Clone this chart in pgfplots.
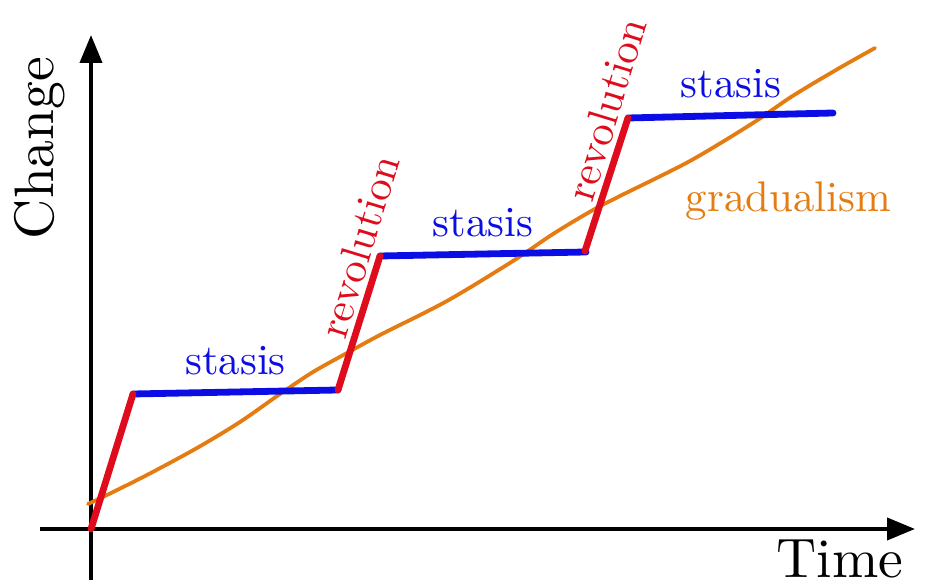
\documentclass[border=0pt]{standalone}
\usepackage{pgfplots}
\pgfplotsset{compat=1.18}
\usetikzlibrary{arrows.meta}
\definecolor{myred}{RGB}{222,12,28}
\definecolor{myblue}{RGB}{12,12,228}
\definecolor{myorange}{RGB}{228,124,18}
\newcommand{\sm}[1]{\scalebox{2.15}{#1}}
\newcommand{\bg}[1]{\scalebox{2.79}{#1}}
\begin{document}
\begin{tikzpicture}
\begin{axis}[x=0.5bp, y=0.5bp, xmin=-91, xmax=845, ymin=-59, ymax=529,
  hide axis, scale only axis, clip=false]
\path (axis cs:-91,-59) rectangle (axis cs:845,529);
% axes
\draw[line width=2bp, -{Triangle[length=14bp,width=11bp]}] (axis cs:-51,0) -- (axis cs:824,0);
\draw[line width=2bp, -{Triangle[length=14bp,width=11bp]}] (axis cs:0,-51) -- (axis cs:0,494);
% gradualism
\addplot[myorange, line width=1.9bp, smooth, line cap=round] coordinates {
(-3,25) (16,34) (56,54) (106,81) (149,107) (189,135) (222,157) (256,176)
(289,194) (356,228) (422,268) (462,295) (502,319) (529,333) (599,368)
(662,406) (700,432) (745,459) (784,481)};
% stasis
\addplot[myblue, line width=3.4bp, line cap=round] coordinates {(42,135) (247,139)};
\addplot[myblue, line width=3.4bp, line cap=round] coordinates {(289,273) (495,277)};
\addplot[myblue, line width=3.4bp, line cap=round] coordinates {(537,411) (742,416)};
% revolution
\addplot[myred, line width=3.4bp, line cap=round] coordinates {(0,0) (42,135)};
\addplot[myred, line width=3.4bp, line cap=round] coordinates {(247,139) (289,273)};
\addplot[myred, line width=3.4bp, line cap=round] coordinates {(494,278) (537,411)};
% labels
\node[text=myblue, anchor=base, inner sep=0pt] at (axis cs:144.5,154) {\sm{stasis}};
\node[text=myblue, anchor=base, inner sep=0pt] at (axis cs:392,292) {\sm{stasis}};
\node[text=myblue, anchor=base, inner sep=0pt] at (axis cs:640,431) {\sm{stasis}};
\node[text=myorange, anchor=base, inner sep=0pt] at (axis cs:697.5,317) {\sm{gradualism}};
\node[text=myred, rotate=73, inner sep=0pt] at (axis cs:268,283) {\sm{revolution}};
\node[text=myred, rotate=73, inner sep=0pt] at (axis cs:515,420) {\sm{revolution}};
\node[rotate=90, inner sep=0pt] at (axis cs:-51,381) {\bg{Change}};
\node[inner sep=0pt] at (axis cs:749,-30) {\bg{Time}};
\end{axis}
\end{tikzpicture}
\end{document}
